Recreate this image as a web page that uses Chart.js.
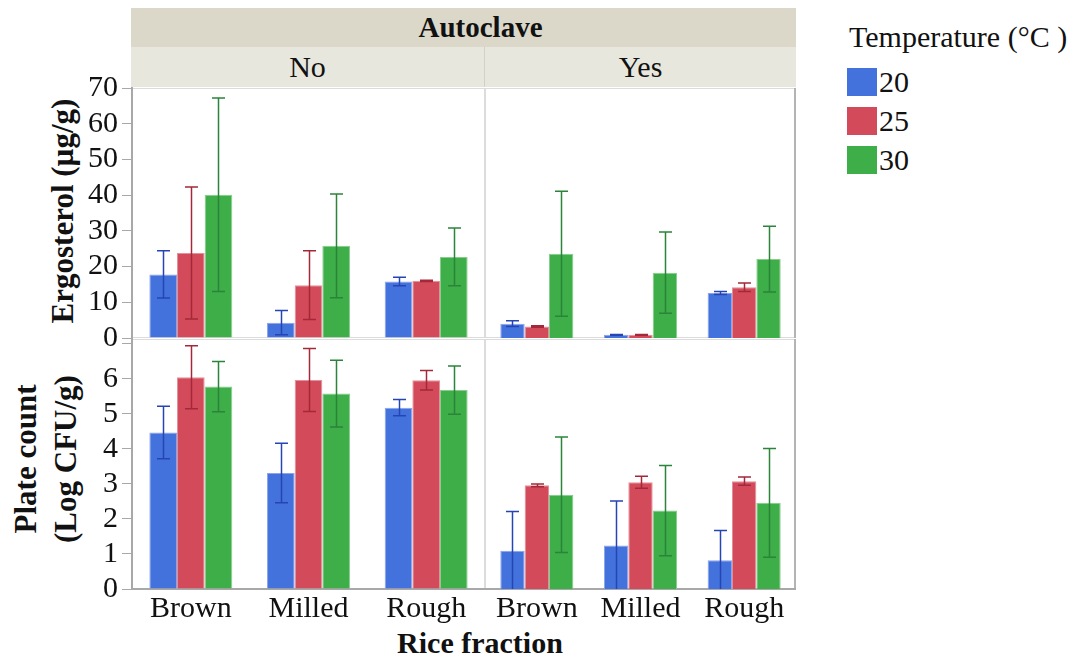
<!DOCTYPE html>
<html>
<head>
<meta charset="utf-8">
<script src="https://cdn.jsdelivr.net/npm/chart.js@4/dist/chart.umd.min.js"></script>
<style>
    body { margin: 0; background: #fff; font-family: 'Liberation Serif', serif; }
    #wrap { position: relative; width: 1076px; height: 660px; overflow: hidden; }
    canvas { position: absolute; }
    .strip { position: absolute; display: flex; align-items: center; justify-content: center; font-size: 30px; color: #111; box-sizing: border-box; }
    .title { position: absolute; font-weight: bold; font-size: 30px; color: #111; white-space: nowrap; }
    .rot { transform: translate(-50%, -50%) rotate(-90deg); text-align: center; line-height: 40px; font-size: 31px; }
    .legend { position: absolute; font-size: 30px; color: #111; }
    .legend .row { display: flex; align-items: center; height: 39px; }
    .legend .sw { width: 30px; height: 28px; margin-right: 2px; }
</style>
</head>
<body>
<div id="wrap">
    <div class="strip" style="left:131px;top:8px;width:665px;height:39px;background:#dbd8c9;font-weight:bold;font-size:29px;padding-left:34px;">Autoclave</div>
    <div class="strip" style="left:131px;top:47px;width:354px;height:40px;background:#e8e7dd;border-right:1px solid #d2d1c6;">No</div>
    <div class="strip" style="left:485px;top:47px;width:311px;height:40px;background:#e8e7dd;">Yes</div>

    <div class="title rot" style="left:63px;top:211px;">Ergosterol (µg/g)</div>
    <div class="title rot" style="left:46px;top:459px;">Plate count<br>(Log CFU/g)</div>
    <div class="title" style="left:480px;top:643px;transform:translate(-50%,-50%);">Rice fraction</div>

    <div class="legend" style="left:847px;top:20px;">
        <div style="margin-left:2px;margin-bottom:8px;">Temperature (°C )</div>
        <div id="legendRows"></div>
    </div>

    <canvas id="tl" width="485" height="298" style="left:0;top:64px;"></canvas>
    <canvas id="tr" width="311" height="298" style="left:485px;top:64px;"></canvas>
    <canvas id="bl" width="485" height="345" style="left:0;top:315px;"></canvas>
    <canvas id="br" width="311" height="345" style="left:485px;top:315px;"></canvas>
</div>

<script>
// ---- data ----
const fractions = ['Brown', 'Milled', 'Rough'];
const temps = ['20', '25', '30'];

// one inner array per temperature (20, 25, 30), values per fraction
const ergoNoMean  = [[17.8, 4.3, 15.8], [23.8, 14.8, 16.0], [40.1, 25.8, 22.7]];
const ergoNoSd    = [[6.6, 3.4, 1.2], [18.5, 9.6, 0.2], [27.1, 14.5, 8.1]];
const ergoYesMean = [[4.0, 0.9, 12.6], [3.2, 0.9, 14.2], [23.6, 18.3, 22.1]];
const ergoYesSd   = [[0.8, 0.1, 0.4], [0.2, 0.1, 1.2], [17.5, 11.4, 9.2]];

const plateNoMean  = [[4.47, 3.31, 5.18], [6.05, 5.97, 5.96], [5.78, 5.58, 5.68]];
const plateNoSd    = [[0.75, 0.85, 0.23], [0.90, 0.90, 0.28], [0.72, 0.95, 0.69]];
const plateYesMean = [[1.09, 1.24, 0.82], [2.96, 3.05, 3.08], [2.69, 2.24, 2.46]];
const plateYesSd   = [[1.12, 1.27, 0.85], [0.04, 0.17, 0.12], [1.65, 1.29, 1.55]];

const ergoTicks = [0, 10, 20, 30, 40, 50, 60, 70];
const plateTicks = [0, 1, 2, 3, 4, 5, 6, 7];

const fillColors = ['#4472dd', '#d34a5a', '#3dae48'];
const edgeColors = ['#8aa3ea', '#e2909a', '#88cc8e'];
const errColors = ['#2545b5', '#a3283a', '#2b843a'];

// ---- legend ----
const legendRows = document.getElementById('legendRows');
temps.forEach((t, i) => {
    const row = document.createElement('div');
    row.className = 'row';
    row.innerHTML = `<div class="sw" style="background:${fillColors[i]}"></div><span>${t}</span>`;
    legendRows.appendChild(row);
});

// ---- plugins ----
const panelFrame = {
    id: 'panelFrame',
    beforeDraw(chart, args, opts) {
        const { ctx, chartArea: a } = chart;
        ctx.save();
        ctx.strokeStyle = '#dcdcdc';
        ctx.lineWidth = 1;
        ctx.strokeRect(a.left + 0.5, a.top + 0.5, a.right - a.left - 1, a.bottom - a.top - 1);
        if (opts.right) {
            ctx.strokeStyle = '#b4b4b4';
            ctx.lineWidth = 2;
            ctx.beginPath();
            ctx.moveTo(a.right - 1, a.top);
            ctx.lineTo(a.right - 1, a.bottom);
            ctx.stroke();
        }
        ctx.restore();
    }
};

const errorBars = {
    id: 'errorBars',
    afterDatasetsDraw(chart) {
        const { ctx, chartArea: a } = chart;
        const y = chart.scales.y;
        ctx.save();
        ctx.beginPath();
        ctx.rect(a.left, a.top, a.right - a.left, a.bottom - a.top);
        ctx.clip();
        chart.data.datasets.forEach((ds, i) => {
            const meta = chart.getDatasetMeta(i);
            ctx.strokeStyle = errColors[i];
            ctx.lineWidth = 1.5;
            meta.data.forEach((bar, j) => {
                const m = ds.data[j];
                const sd = ds.sd[j];
                const yHi = y.getPixelForValue(m + sd);
                const yLo = y.getPixelForValue(m - sd);
                const x = Math.round(bar.x) + 0.5;
                ctx.beginPath();
                ctx.moveTo(x, yHi);
                ctx.lineTo(x, yLo);
                ctx.moveTo(x - 6.5, yHi);
                ctx.lineTo(x + 6.5, yHi);
                ctx.moveTo(x - 6.5, yLo);
                ctx.lineTo(x + 6.5, yLo);
                ctx.stroke();
            });
        });
        ctx.restore();
    }
};

const font = { family: "'Liberation Serif', serif", size: 30 };

function makePanel(id, means, sds, opt) {
    const datasets = temps.map((t, i) => ({
        label: t,
        data: means[i],
        sd: sds[i],
        backgroundColor: fillColors[i],
        borderColor: edgeColors[i],
        borderWidth: 1,
        categoryPercentage: 0.705,
        barPercentage: 1
    }));

    const x = {
        display: opt.showX,
        grid: { display: true, drawOnChartArea: false, drawTicks: false },
        border: { display: true, color: '#a8a8a8', width: 2 },
        ticks: { color: '#111', font, padding: 2, maxRotation: 0, autoSkip: false }
    };
    if (opt.showX) x.afterFit = s => { s.height = 71; };

    const y = {
        display: opt.showY,
        min: 0,
        max: opt.max,
        afterBuildTicks: s => { s.ticks = opt.ticks.map(v => ({ value: v })); },
        grid: { drawOnChartArea: false, tickLength: 10, color: '#a8a8a8', lineWidth: 1 },
        border: { display: true, color: '#a8a8a8', width: 2 },
        ticks: {
            color: '#111',
            font,
            padding: 4,
            autoSkip: false,
            callback: v => (v > opt.lastLabel ? '' : v)
        }
    };
    if (opt.showY) y.afterFit = s => { s.width = 132; };

    return new Chart(document.getElementById(id), {
        type: 'bar',
        data: { labels: fractions, datasets },
        options: {
            responsive: false,
            animation: false,
            layout: { padding: opt.padding },
            scales: { x, y },
            plugins: {
                legend: { display: false },
                tooltip: { enabled: false },
                panelFrame: { right: opt.right }
            }
        },
        plugins: [panelFrame, errorBars]
    });
}

makePanel('tl', ergoNoMean, ergoNoSd, {
    padding: { top: 24, bottom: 24, left: 0, right: 0 },
    showX: false, showY: true, max: 70, ticks: ergoTicks, lastLabel: 70, right: false
});
makePanel('tr', ergoYesMean, ergoYesSd, {
    padding: { top: 24, bottom: 24, left: 0, right: 0 },
    showX: false, showY: false, max: 70, ticks: ergoTicks, lastLabel: 70, right: true
});
makePanel('bl', plateNoMean, plateNoSd, {
    padding: { top: 24, bottom: 0, left: 0, right: 0 },
    showX: true, showY: true, max: 7.14, ticks: plateTicks, lastLabel: 6, right: false
});
makePanel('br', plateYesMean, plateYesSd, {
    padding: { top: 24, bottom: 0, left: 0, right: 0 },
    showX: true, showY: false, max: 7.14, ticks: plateTicks, lastLabel: 6, right: true
});
</script>
</body>
</html>
